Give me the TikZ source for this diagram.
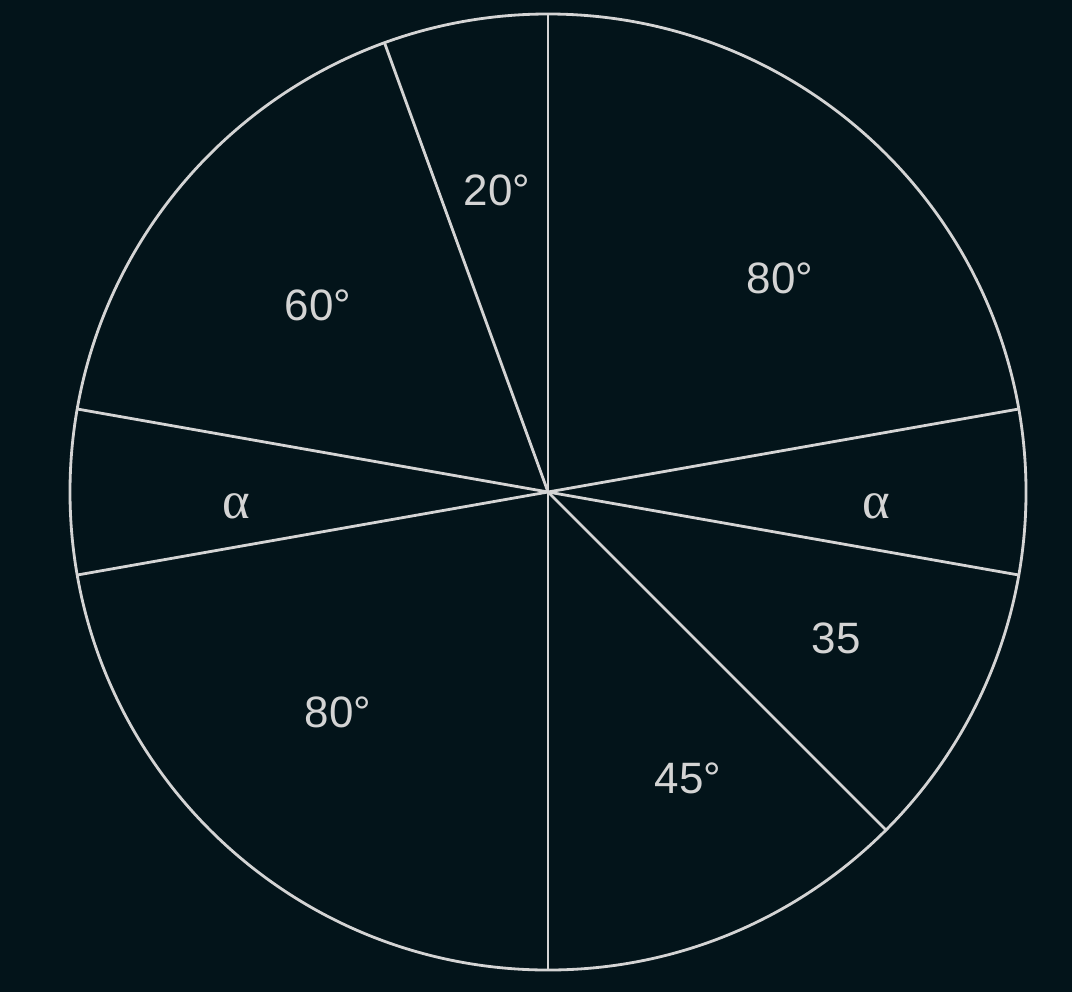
\documentclass[tikz,border=0pt]{standalone}
\usepackage{fontspec}
\setmainfont{Liberation Sans}
\newfontfamily\greekfont{Liberation Serif}
\definecolor{bgdark}{HTML}{03141A}
\definecolor{chalk}{HTML}{D4D4D4}
\tikzset{
  rim/.style={draw=chalk, line width=0.8pt},
  spoke/.style={draw=chalk, line width=0.8pt},
  ang/.style={text=chalk, font=\fontsize{12.5}{14}\selectfont},
  greek/.style={text=chalk, font=\greekfont\fontsize{15}{17}\selectfont}
}
\begin{document}
\begin{tikzpicture}
  \fill[bgdark] (0,0) rectangle (10.72,9.92);
  \useasboundingbox (0,0) rectangle (10.72,9.92);
  \coordinate (O) at (5.48,5.00);
  \draw[rim] (O) circle (4.78);
  % spokes to the rim
  \foreach \a in {10,90,110,170,190,270,315,350}{
    \coordinate (p\a) at ([shift={(\a:4.78)}]O);
    \draw[spoke] (O) -- (p\a);
  }
  % angle labels
  \node[ang] (t20) at (4.97,8.02) {20°};
  \node[ang] (t80a) at (7.80,7.14) {80°};
  \node[ang] (t60) at (3.18,6.87) {60°};
  \node[greek] (al) at (2.36,4.86) {α};
  \node[greek] (ar) at (8.76,4.86) {α};
  \node[ang] (t35) at (8.36,3.54) {35};
  \node[ang] (t80b) at (3.38,2.80) {80°};
  \node[ang] (t45) at (6.88,2.14) {45°};
\end{tikzpicture}
\end{document}
